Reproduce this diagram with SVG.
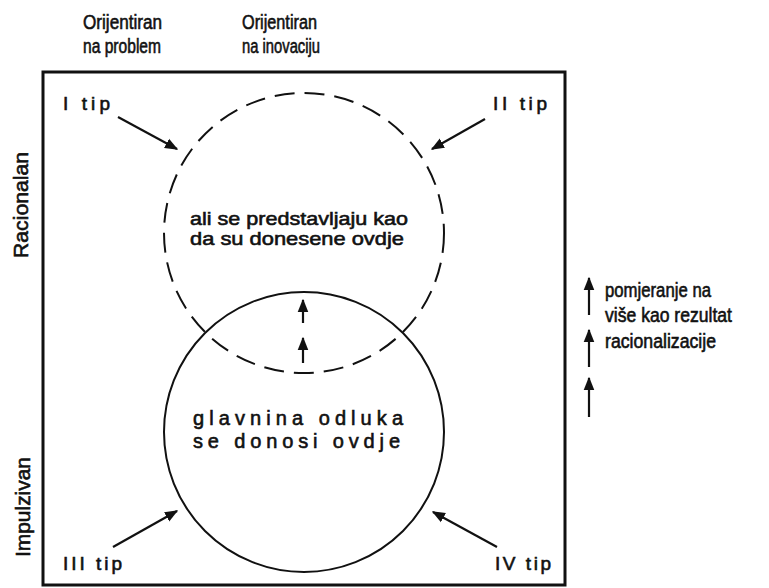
<svg xmlns="http://www.w3.org/2000/svg" width="769" height="588" viewBox="0 0 769 588">
<style>
text{font-family:"Liberation Sans","DejaVu Sans",sans-serif;fill:#111;stroke:#111;stroke-width:0.6;}
.t{font-size:19px;}
.h{font-size:20px;}
.c{fill:none;stroke:#111;stroke-width:2;}
.a{fill:none;stroke:#111;stroke-width:2.2;marker-end:url(#ah);}
</style>
<defs>
<marker id="ah" viewBox="0 0 10 10" refX="9" refY="5" markerWidth="6" markerHeight="6" orient="auto" markerUnits="strokeWidth">
<path d="M0,1 L10,5 L0,9 z" fill="#111"/>
</marker>
</defs>
<rect width="769" height="588" fill="#fff"/>
<g id="frame"><rect x="43" y="72" width="522" height="513" fill="none" stroke="#111" stroke-width="3"/></g>
<g id="headers">
<text class="h" x="83" y="29" textLength="79" lengthAdjust="spacingAndGlyphs">Orijentiran</text>
<text class="h" x="83" y="53" textLength="78" lengthAdjust="spacingAndGlyphs">na problem</text>
<text class="h" x="242" y="29" textLength="75" lengthAdjust="spacingAndGlyphs">Orijentiran</text>
<text class="h" x="242" y="53" textLength="78" lengthAdjust="spacingAndGlyphs">na inovaciju</text>
</g>
<g id="side-labels">
<text transform="translate(28,258) rotate(-90)" font-size="21" textLength="106" lengthAdjust="spacingAndGlyphs">Racionalan</text>
<text transform="translate(30,557) rotate(-90)" font-size="21" textLength="100" lengthAdjust="spacingAndGlyphs">Impulzivan</text>
</g>
<g id="upper-circle">
<circle class="c" cx="304" cy="233" r="140" stroke-dasharray="20 10"/>
<text x="190" y="225" font-size="19" textLength="218" lengthAdjust="spacingAndGlyphs">ali se predstavljaju kao</text>
<text x="190" y="245" font-size="19" textLength="214" lengthAdjust="spacingAndGlyphs">da su donesene ovdje</text>
</g>
<g id="lower-circle">
<circle class="c" cx="304" cy="432" r="140"/>
<text x="193" y="425" font-size="20" textLength="210">glavnina odluka</text>
<text x="193" y="448" font-size="20" textLength="207">se donosi ovdje</text>
</g>
<g id="types">
<text class="t" x="63" y="110" textLength="47">I tip</text>
<text class="t" x="493" y="110" textLength="54">II tip</text>
<text class="t" x="63" y="570" textLength="59">III tip</text>
<text class="t" x="495" y="570" textLength="56">IV tip</text>
</g>
<g id="note">
<text class="h" x="605" y="297" textLength="106" lengthAdjust="spacingAndGlyphs">pomjeranje na</text>
<text class="h" x="605" y="322" textLength="127" lengthAdjust="spacingAndGlyphs">više kao rezultat</text>
<text class="h" x="605" y="348" textLength="111" lengthAdjust="spacingAndGlyphs">racionalizacije</text>
</g>
<g id="connectors">
<line class="a" x1="118" y1="117" x2="177" y2="149"/>
<line class="a" x1="485" y1="119" x2="432" y2="149"/>
<line class="a" x1="113" y1="547" x2="177" y2="511"/>
<line class="a" x1="497" y1="547" x2="433" y2="512"/>
<line class="a" x1="303" y1="323" x2="303" y2="300"/>
<line class="a" x1="303" y1="363" x2="303" y2="338"/>
<line class="a" x1="589" y1="315" x2="589" y2="278"/>
<line class="a" x1="589" y1="367" x2="589" y2="330"/>
<line class="a" x1="589" y1="417" x2="589" y2="378"/>
</g>
</svg>
